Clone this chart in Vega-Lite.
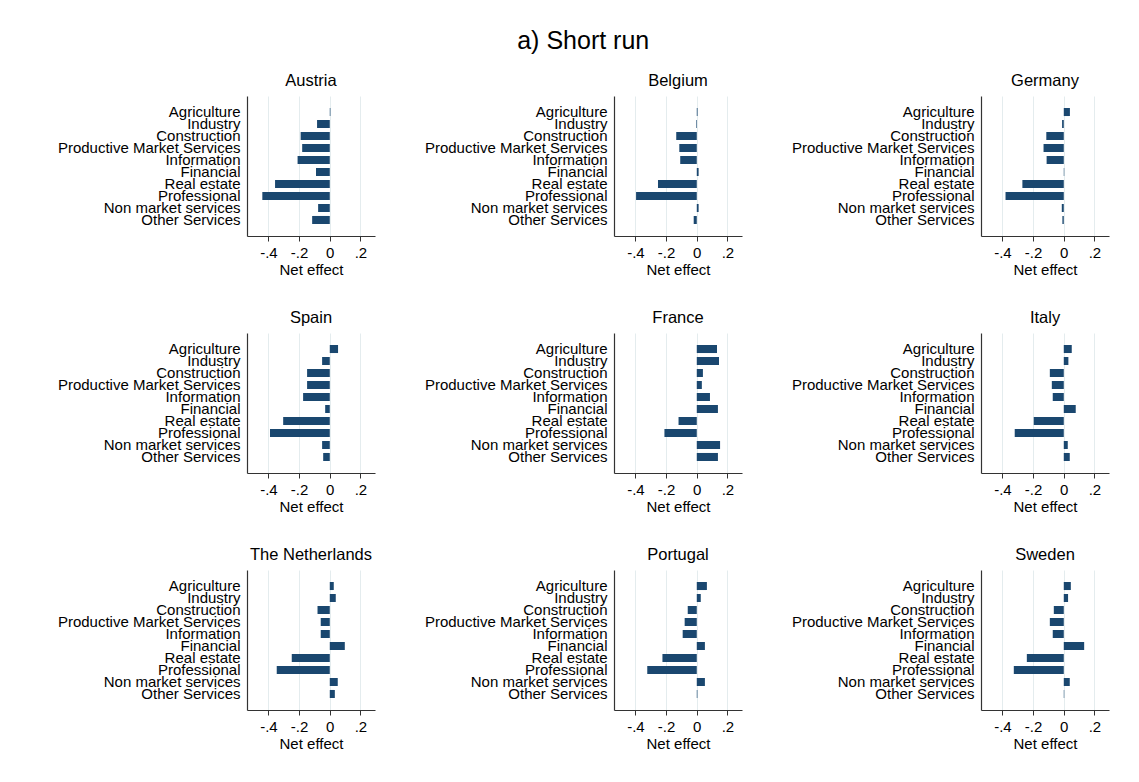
{
  "$schema": "https://vega.github.io/schema/vega-lite/v6.json",
  "padding": {"left": 57, "top": 28, "right": 5, "bottom": 5},
  "background": "white",
  "title": {"text": "a) Short run", "fontSize": 25, "fontWeight": "normal", "anchor": "middle", "color": "black", "offset": 19},
  "data": {"values": [
    {"country": "Austria", "sector": "Agriculture", "effect": 0.004},
    {"country": "Austria", "sector": "Industry", "effect": -0.083},
    {"country": "Austria", "sector": "Construction", "effect": -0.19},
    {"country": "Austria", "sector": "Productive Market Services", "effect": -0.18},
    {"country": "Austria", "sector": "Information", "effect": -0.21},
    {"country": "Austria", "sector": "Financial", "effect": -0.09},
    {"country": "Austria", "sector": "Real estate", "effect": -0.357},
    {"country": "Austria", "sector": "Professional", "effect": -0.44},
    {"country": "Austria", "sector": "Non market services", "effect": -0.076},
    {"country": "Austria", "sector": "Other Services", "effect": -0.115},
    {"country": "Belgium", "sector": "Agriculture", "effect": 0.005},
    {"country": "Belgium", "sector": "Industry", "effect": -0.004},
    {"country": "Belgium", "sector": "Construction", "effect": -0.134},
    {"country": "Belgium", "sector": "Productive Market Services", "effect": -0.114},
    {"country": "Belgium", "sector": "Information", "effect": -0.108},
    {"country": "Belgium", "sector": "Financial", "effect": 0.012},
    {"country": "Belgium", "sector": "Real estate", "effect": -0.253},
    {"country": "Belgium", "sector": "Professional", "effect": -0.396},
    {"country": "Belgium", "sector": "Non market services", "effect": 0.012},
    {"country": "Belgium", "sector": "Other Services", "effect": -0.02},
    {"country": "Germany", "sector": "Agriculture", "effect": 0.04},
    {"country": "Germany", "sector": "Industry", "effect": -0.011},
    {"country": "Germany", "sector": "Construction", "effect": -0.114},
    {"country": "Germany", "sector": "Productive Market Services", "effect": -0.132},
    {"country": "Germany", "sector": "Information", "effect": -0.112},
    {"country": "Germany", "sector": "Financial", "effect": 0.003},
    {"country": "Germany", "sector": "Real estate", "effect": -0.27},
    {"country": "Germany", "sector": "Professional", "effect": -0.38},
    {"country": "Germany", "sector": "Non market services", "effect": -0.013},
    {"country": "Germany", "sector": "Other Services", "effect": -0.009},
    {"country": "Spain", "sector": "Agriculture", "effect": 0.054},
    {"country": "Spain", "sector": "Industry", "effect": -0.05},
    {"country": "Spain", "sector": "Construction", "effect": -0.148},
    {"country": "Spain", "sector": "Productive Market Services", "effect": -0.148},
    {"country": "Spain", "sector": "Information", "effect": -0.174},
    {"country": "Spain", "sector": "Financial", "effect": -0.03},
    {"country": "Spain", "sector": "Real estate", "effect": -0.304},
    {"country": "Spain", "sector": "Professional", "effect": -0.39},
    {"country": "Spain", "sector": "Non market services", "effect": -0.05},
    {"country": "Spain", "sector": "Other Services", "effect": -0.043},
    {"country": "France", "sector": "Agriculture", "effect": 0.132},
    {"country": "France", "sector": "Industry", "effect": 0.145},
    {"country": "France", "sector": "Construction", "effect": 0.04},
    {"country": "France", "sector": "Productive Market Services", "effect": 0.033},
    {"country": "France", "sector": "Information", "effect": 0.086},
    {"country": "France", "sector": "Financial", "effect": 0.138},
    {"country": "France", "sector": "Real estate", "effect": -0.119},
    {"country": "France", "sector": "Professional", "effect": -0.211},
    {"country": "France", "sector": "Non market services", "effect": 0.152},
    {"country": "France", "sector": "Other Services", "effect": 0.138},
    {"country": "Italy", "sector": "Agriculture", "effect": 0.052},
    {"country": "Italy", "sector": "Industry", "effect": 0.03},
    {"country": "Italy", "sector": "Construction", "effect": -0.091},
    {"country": "Italy", "sector": "Productive Market Services", "effect": -0.078},
    {"country": "Italy", "sector": "Information", "effect": -0.072},
    {"country": "Italy", "sector": "Financial", "effect": 0.078},
    {"country": "Italy", "sector": "Real estate", "effect": -0.196},
    {"country": "Italy", "sector": "Professional", "effect": -0.32},
    {"country": "Italy", "sector": "Non market services", "effect": 0.026},
    {"country": "Italy", "sector": "Other Services", "effect": 0.039},
    {"country": "The Netherlands", "sector": "Agriculture", "effect": 0.026},
    {"country": "The Netherlands", "sector": "Industry", "effect": 0.039},
    {"country": "The Netherlands", "sector": "Construction", "effect": -0.08},
    {"country": "The Netherlands", "sector": "Productive Market Services", "effect": -0.059},
    {"country": "The Netherlands", "sector": "Information", "effect": -0.059},
    {"country": "The Netherlands", "sector": "Financial", "effect": 0.098},
    {"country": "The Netherlands", "sector": "Real estate", "effect": -0.248},
    {"country": "The Netherlands", "sector": "Professional", "effect": -0.346},
    {"country": "The Netherlands", "sector": "Non market services", "effect": 0.052},
    {"country": "The Netherlands", "sector": "Other Services", "effect": 0.033},
    {"country": "Portugal", "sector": "Agriculture", "effect": 0.066},
    {"country": "Portugal", "sector": "Industry", "effect": 0.026},
    {"country": "Portugal", "sector": "Construction", "effect": -0.059},
    {"country": "Portugal", "sector": "Productive Market Services", "effect": -0.079},
    {"country": "Portugal", "sector": "Information", "effect": -0.092},
    {"country": "Portugal", "sector": "Financial", "effect": 0.053},
    {"country": "Portugal", "sector": "Real estate", "effect": -0.224},
    {"country": "Portugal", "sector": "Professional", "effect": -0.323},
    {"country": "Portugal", "sector": "Non market services", "effect": 0.053},
    {"country": "Portugal", "sector": "Other Services", "effect": 0.004},
    {"country": "Sweden", "sector": "Agriculture", "effect": 0.046},
    {"country": "Sweden", "sector": "Industry", "effect": 0.028},
    {"country": "Sweden", "sector": "Construction", "effect": -0.065},
    {"country": "Sweden", "sector": "Productive Market Services", "effect": -0.091},
    {"country": "Sweden", "sector": "Information", "effect": -0.072},
    {"country": "Sweden", "sector": "Financial", "effect": 0.133},
    {"country": "Sweden", "sector": "Real estate", "effect": -0.241},
    {"country": "Sweden", "sector": "Professional", "effect": -0.326},
    {"country": "Sweden", "sector": "Non market services", "effect": 0.039},
    {"country": "Sweden", "sector": "Other Services", "effect": 0.003}
  ]},
  "facet": {
    "field": "country", "type": "nominal",
    "sort": ["Austria", "Belgium", "Germany", "Spain", "France", "Italy", "The Netherlands", "Portugal", "Sweden"],
    "title": null,
    "header": {"labelFontSize": 16.5, "labelPadding": 7, "labelColor": "black", "labelFont": "Liberation Sans"}
  },
  "columns": 3,
  "spacing": {"column": 49, "row": 32},
  "resolve": {"axis": {"x": "independent", "y": "independent"}},
  "spec": {
    "width": 128,
    "height": 140,
    "mark": {"type": "bar", "color": "#1a476f"},
    "encoding": {
      "y": {
        "field": "sector", "type": "nominal",
        "sort": ["Agriculture", "Industry", "Construction", "Productive Market Services", "Information", "Financial", "Real estate", "Professional", "Non market services", "Other Services"],
        "scale": {"paddingInner": 0.33, "paddingOuter": 1.26},
        "axis": {"title": null, "ticks": false, "tickSize": 0, "labelPadding": 7, "labelFontSize": 15, "labelLimit": 0, "labelOverlap": false, "labelColor": "black", "domainColor": "#333333", "domainWidth": 1.2, "grid": false, "labelBound": false}
      },
      "x": {
        "field": "effect", "type": "quantitative",
        "scale": {"domain": [-0.54, 0.295], "nice": false},
        "axis": {
          "title": "Net effect", "values": [-0.4, -0.2, 0, 0.2],
          "labelExpr": "datum.value == 0 ? '0' : (datum.value < 0 ? '-' : '') + '.' + format(abs(datum.value) * 10, '.0f')",
          "grid": true, "gridColor": "#e4ecee", "gridWidth": 1,
          "domainColor": "#333333", "domainWidth": 1.2, "tickColor": "#333333", "tickSize": 5,
          "labelFontSize": 15, "labelColor": "black", "labelPadding": 4, "labelFlush": false,
          "titleFontSize": 15, "titleFontWeight": "normal", "titleColor": "black", "titlePadding": 2
        }
      },
      "x2": {"datum": 0}
    }
  },
  "config": {
    "font": "Liberation Sans",
    "view": {"stroke": null}
  }
}
